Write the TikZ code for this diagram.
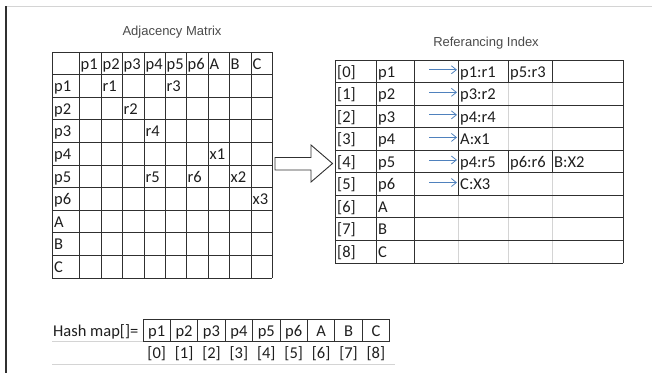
\documentclass[tikz,border=0pt]{standalone}
\usepackage{fontspec}
\setmainfont{Carlito}
\newfontfamily\titlefont{Liberation Sans}
\usetikzlibrary{arrows.meta}
\definecolor{gridc}{HTML}{303030}
\definecolor{lightc}{HTML}{D4D4D4}
\definecolor{arrowblue}{HTML}{4F81BD}
\definecolor{titlec}{HTML}{4A4A4A}
\definecolor{textc}{HTML}{1E1E1E}
\begin{document}
\begin{tikzpicture}[x=1pt,y=-1pt,
  gridline/.style={draw=gridc,line width=0.9pt},
  faint/.style={draw=lightc,line width=0.8pt},
  cell/.style={anchor=base west,inner sep=0pt,font=\fontsize{16.5}{18}\selectfont,text=textc},
  ccell/.style={anchor=base,inner sep=0pt,font=\fontsize{16.5}{18}\selectfont,text=textc},
  title/.style={inner sep=0pt,font=\titlefont\fontsize{13}{14}\selectfont,text=titlec},
  refarrow/.style={draw=arrowblue,line width=0.8pt,-{Straight Barb[length=5pt,width=8pt]}},
  bigarrow/.style={draw=gridc,fill=white,line width=0.9pt,line join=miter}]

\useasboundingbox (0,0) rectangle (652,373);

% frame
\draw[draw=lightc,line width=1pt] (6,6) -- (652,6);
\draw[draw=gridc,line width=1.6pt] (6,6) -- (6,373);

% ---------- Adjacency matrix ----------
\node[title] (t1) at (172,32) {Adjacency Matrix};
\foreach \k in {0,...,10} \draw[gridline] (52,{52+22.6*\k}) -- (272,{52+22.6*\k});
\foreach \x in {52,79,101,122,144,165,186,208,229,251,272} \draw[gridline] (\x,52) -- (\x,278);
\foreach \x/\t [count=\i] in {79/p1,101/p2,122/p3,144/p4,165/p5,186/p6,208/A,229/B,251/C}
  \node[cell] (mh\i) at (\x+1.5,{52+22.6-5.5}) {\t};
\foreach \t [count=\i] in {p1,p2,p3,p4,p5,p6,A,B,C}
  \node[cell] (mr\i) at (54,{52+22.6*(\i+1)-5.5}) {\t};
\foreach \x/\r/\t [count=\i] in {101/1/r1,165/1/r3,122/2/r2,144/3/r4,208/4/x1,144/5/r5,186/5/r6,229/5/x2,251/6/x3}
  \node[cell] (me\i) at (\x+1.5,{52+22.6*(\r+1)-5.5}) {\t};

% ---------- big arrow ----------
\draw[bigarrow] (275,157.5) -- (311,157.5) -- (311,145) -- (332.5,163.5) -- (311,182) -- (311,170) -- (275,170) -- cycle;

% ---------- Referencing index ----------
\node[title] (t2) at (486,43) {Referancing Index};
% faint inner verticals
\draw[faint] (458,195.3) -- (458,263);
\draw[faint] (508,82.55) -- (508,263);
\draw[faint] (552,82.55) -- (552,263);
% rows
\foreach \k in {0,...,9} \draw[gridline] (335,{60+22.55*\k}) -- (623,{60+22.55*\k});
\foreach \x in {335,376,414,623} \draw[gridline] (\x,60) -- (\x,263);
\draw[gridline] (458,60) -- (458,195.3);
\draw[gridline] (508,60) -- (508,82.55);
\draw[gridline] (552,60) -- (552,82.55);
\draw[gridline] (508,150.2) -- (508,172.75);
\draw[gridline] (552,150.2) -- (552,172.75);
\foreach \t [count=\i from 0] in {p1,p2,p3,p4,p5,p6,A,B,C} {
  \node[cell] (ri\i) at (337,{60+22.55*(\i+1)-5.5}) {[\i]};
  \node[cell] (rl\i) at (378,{60+22.55*(\i+1)-5.5}) {\t};
}
\foreach \k in {0,...,5} {
  \coordinate (as\k) at (429,{60+22.55*(\k+0.5)-1.5});
  \coordinate (ae\k) at (457,{60+22.55*(\k+0.5)-1.5});
  \draw[refarrow] (as\k) -- (ae\k);
}
\foreach \x/\r/\t [count=\i] in {460/0/p1:r1,510/0/p5:r3,460/1/p3:r2,460/2/p4:r4,460/3/A:x1,460/4/p4:r5,510/4/p6:r6,554/4/B:X2,460/5/C:X3}
  \node[cell] (re\i) at (\x,{60+22.55*(\r+1)-5.5}) {\t};

% ---------- Hash map ----------
\draw[faint] (52,341.6) -- (143,341.6);
\draw[faint] (52,364.2) -- (395,364.2);
\draw[gridline] (143,319) -- (389.6,319);
\draw[gridline] (143,341.6) -- (389.6,341.6);
\foreach \i in {0,...,9} \draw[gridline] ({143+27.4*\i},319) -- ({143+27.4*\i},341.6);
\node[cell] (hm) at (53,{341.6-5.5}) {Hash map[]=};
\foreach \t [count=\i from 0] in {p1,p2,p3,p4,p5,p6,A,B,C} {
  \node[ccell] (hv\i) at ({143+27.4*(\i+0.5)},{341.6-5.5}) {\t};
  \node[ccell] (hi\i) at ({143+27.4*(\i+0.5)},{364.2-5.5}) {[\i]};
}
\end{tikzpicture}
\end{document}
